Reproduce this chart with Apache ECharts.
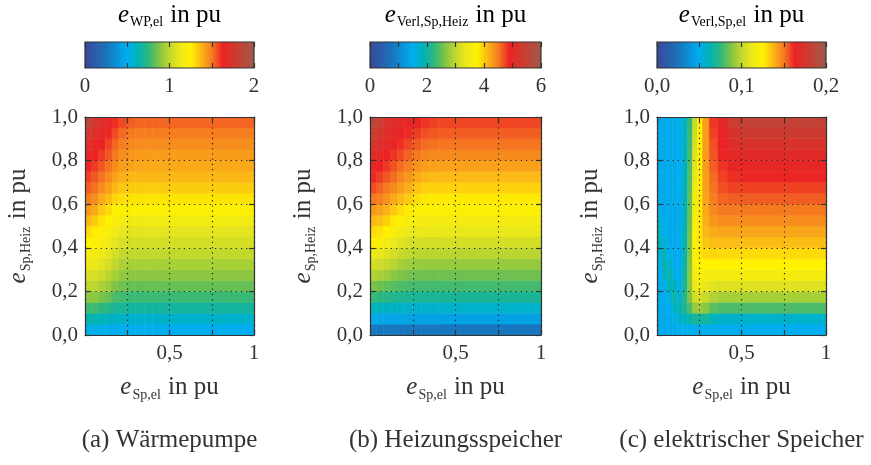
<!DOCTYPE html>
<html>
<head>
<meta charset="utf-8">
<script src="https://cdn.jsdelivr.net/npm/echarts@6/dist/echarts.min.js"></script>
<style>
    html, body { margin: 0; padding: 0; background: #fff; }
    #chart { width: 871px; height: 465px; }
</style>
</head>
<body>
<div id="chart"></div>
<script>
// ---- data ----
// cell edges along e_Sp,el and e_Sp,Heiz
const X_EDGES_AB = [0, 0.04, 0.08, 0.12, 0.16, 0.2, 0.25, 0.3, 0.35, 0.4, 1];
const X_EDGES_C = [0, 0.03, 0.06, 0.09, 0.12, 0.15, 0.18, 0.21, 0.24, 0.27, 0.31, 0.36, 0.42, 0.5, 1];
const Y_EDGES = [0, 0.05, 0.1, 0.15, 0.2, 0.25, 0.3, 0.35, 0.4, 0.45, 0.5,
                 0.55, 0.6, 0.65, 0.7, 0.75, 0.8, 0.85, 0.9, 0.95, 1];

// (a) e_WP,el, one column per x cell, rows from bottom to top
const E_WP_EL = [
    [0.52, 0.64, 0.78, 0.90, 0.99, 1.07, 1.13, 1.19, 1.24, 1.30, 1.37, 1.44, 1.49, 1.54, 1.58, 1.62, 1.65, 1.70, 1.77, 1.85],
    [0.52, 0.64, 0.78, 0.90, 0.99, 1.06, 1.12, 1.17, 1.22, 1.26, 1.33, 1.40, 1.46, 1.51, 1.55, 1.59, 1.63, 1.66, 1.70, 1.76],
    [0.51, 0.62, 0.75, 0.87, 0.96, 1.03, 1.09, 1.14, 1.19, 1.23, 1.28, 1.34, 1.40, 1.46, 1.51, 1.55, 1.59, 1.63, 1.66, 1.69],
    [0.51, 0.61, 0.73, 0.84, 0.93, 0.99, 1.05, 1.10, 1.15, 1.20, 1.25, 1.30, 1.36, 1.42, 1.47, 1.51, 1.55, 1.58, 1.62, 1.65],
    [0.50, 0.60, 0.70, 0.80, 0.88, 0.95, 1.00, 1.05, 1.10, 1.15, 1.20, 1.25, 1.31, 1.37, 1.42, 1.46, 1.50, 1.53, 1.57, 1.61],
    [0.50, 0.59, 0.69, 0.78, 0.85, 0.91, 0.96, 1.01, 1.06, 1.11, 1.17, 1.23, 1.29, 1.34, 1.39, 1.43, 1.46, 1.49, 1.52, 1.57],
    [0.50, 0.58, 0.68, 0.77, 0.84, 0.90, 0.95, 1.00, 1.05, 1.10, 1.16, 1.23, 1.28, 1.33, 1.37, 1.41, 1.44, 1.47, 1.50, 1.54],
    [0.50, 0.58, 0.68, 0.77, 0.84, 0.90, 0.95, 1.00, 1.05, 1.10, 1.16, 1.23, 1.28, 1.33, 1.37, 1.40, 1.43, 1.46, 1.49, 1.53],
    [0.50, 0.58, 0.68, 0.77, 0.84, 0.90, 0.95, 1.00, 1.05, 1.10, 1.16, 1.23, 1.28, 1.33, 1.37, 1.40, 1.43, 1.46, 1.49, 1.53],
    [0.50, 0.58, 0.68, 0.77, 0.84, 0.90, 0.95, 1.00, 1.05, 1.10, 1.16, 1.23, 1.28, 1.33, 1.37, 1.40, 1.43, 1.46, 1.49, 1.53]
];

// (b) e_Verl,Sp,Heiz
const E_VERL_SP_HEIZ = [
    [0.85, 1.45, 1.90, 2.30, 2.60, 2.90, 3.15, 3.40, 3.70, 3.90, 4.10, 4.30, 4.50, 4.70, 4.85, 4.95, 5.10, 5.25, 5.40, 5.55],
    [0.83, 1.42, 1.85, 2.25, 2.55, 2.85, 3.10, 3.35, 3.60, 3.85, 4.05, 4.25, 4.45, 4.60, 4.75, 4.88, 5.00, 5.12, 5.25, 5.38],
    [0.82, 1.40, 1.82, 2.20, 2.50, 2.78, 3.02, 3.25, 3.50, 3.75, 3.95, 4.15, 4.35, 4.50, 4.65, 4.78, 4.90, 5.00, 5.10, 5.20],
    [0.81, 1.38, 1.80, 2.16, 2.45, 2.70, 2.95, 3.15, 3.38, 3.60, 3.80, 4.02, 4.22, 4.40, 4.55, 4.67, 4.80, 4.90, 5.00, 5.08],
    [0.80, 1.37, 1.78, 2.13, 2.40, 2.62, 2.85, 3.05, 3.25, 3.48, 3.68, 3.90, 4.10, 4.28, 4.43, 4.56, 4.70, 4.82, 4.92, 5.00],
    [0.80, 1.36, 1.76, 2.11, 2.37, 2.58, 2.79, 2.99, 3.19, 3.40, 3.60, 3.80, 4.00, 4.17, 4.32, 4.46, 4.60, 4.72, 4.84, 4.94],
    [0.80, 1.35, 1.75, 2.10, 2.35, 2.55, 2.76, 2.96, 3.16, 3.36, 3.55, 3.73, 3.88, 4.04, 4.20, 4.35, 4.50, 4.63, 4.76, 4.88],
    [0.80, 1.35, 1.75, 2.10, 2.35, 2.55, 2.75, 2.95, 3.15, 3.35, 3.50, 3.68, 3.82, 3.97, 4.13, 4.28, 4.43, 4.56, 4.68, 4.80],
    [0.80, 1.35, 1.75, 2.10, 2.35, 2.55, 2.75, 2.95, 3.15, 3.35, 3.50, 3.68, 3.80, 3.95, 4.10, 4.25, 4.40, 4.53, 4.64, 4.75],
    [0.80, 1.35, 1.75, 2.10, 2.35, 2.55, 2.75, 2.95, 3.15, 3.35, 3.50, 3.68, 3.80, 3.95, 4.10, 4.25, 4.40, 4.52, 4.62, 4.72]
];

// (c) e_Verl,Sp,el
const E_VERL_SP_EL = [
    [0.048, 0.048, 0.048, 0.048, 0.049, 0.050, 0.052, 0.056, 0.060, 0.061, 0.056, 0.051, 0.049, 0.048, 0.048, 0.048, 0.048, 0.048, 0.048, 0.048],
    [0.048, 0.048, 0.048, 0.049, 0.052, 0.058, 0.063, 0.062, 0.056, 0.051, 0.049, 0.048, 0.048, 0.048, 0.048, 0.048, 0.048, 0.048, 0.048, 0.048],
    [0.048, 0.048, 0.050, 0.055, 0.062, 0.065, 0.058, 0.051, 0.049, 0.048, 0.048, 0.048, 0.048, 0.048, 0.048, 0.048, 0.048, 0.048, 0.048, 0.048],
    [0.048, 0.052, 0.060, 0.066, 0.062, 0.054, 0.050, 0.049, 0.048, 0.048, 0.048, 0.048, 0.048, 0.048, 0.048, 0.048, 0.048, 0.048, 0.048, 0.048],
    [0.050, 0.060, 0.064, 0.058, 0.052, 0.050, 0.049, 0.049, 0.049, 0.049, 0.049, 0.049, 0.049, 0.050, 0.050, 0.050, 0.050, 0.051, 0.051, 0.052],
    [0.050, 0.060, 0.070, 0.072, 0.070, 0.068, 0.066, 0.065, 0.064, 0.063, 0.062, 0.061, 0.061, 0.061, 0.061, 0.060, 0.060, 0.060, 0.060, 0.060],
    [0.050, 0.064, 0.080, 0.088, 0.090, 0.090, 0.089, 0.088, 0.087, 0.086, 0.085, 0.084, 0.083, 0.082, 0.081, 0.080, 0.079, 0.078, 0.077, 0.076],
    [0.050, 0.068, 0.092, 0.105, 0.112, 0.117, 0.120, 0.122, 0.123, 0.122, 0.120, 0.118, 0.116, 0.114, 0.112, 0.110, 0.108, 0.106, 0.104, 0.102],
    [0.050, 0.068, 0.093, 0.106, 0.115, 0.121, 0.125, 0.127, 0.128, 0.128, 0.128, 0.127, 0.127, 0.126, 0.126, 0.126, 0.125, 0.125, 0.125, 0.125],
    [0.050, 0.068, 0.090, 0.102, 0.112, 0.119, 0.125, 0.130, 0.134, 0.137, 0.139, 0.140, 0.141, 0.142, 0.142, 0.143, 0.143, 0.143, 0.143, 0.143],
    [0.050, 0.062, 0.082, 0.097, 0.109, 0.118, 0.125, 0.131, 0.136, 0.140, 0.144, 0.147, 0.149, 0.151, 0.152, 0.154, 0.155, 0.156, 0.158, 0.160],
    [0.050, 0.059, 0.080, 0.095, 0.108, 0.118, 0.125, 0.130, 0.136, 0.141, 0.146, 0.150, 0.153, 0.156, 0.158, 0.160, 0.162, 0.163, 0.164, 0.166],
    [0.050, 0.058, 0.080, 0.095, 0.108, 0.118, 0.125, 0.130, 0.136, 0.141, 0.146, 0.150, 0.154, 0.158, 0.161, 0.164, 0.167, 0.170, 0.174, 0.178],
    [0.050, 0.058, 0.080, 0.095, 0.108, 0.118, 0.125, 0.130, 0.136, 0.141, 0.146, 0.150, 0.154, 0.158, 0.162, 0.165, 0.168, 0.173, 0.178, 0.182]
];

// colour bar ranges and labelled ticks
const CB_MAX = [2, 6, 0.2];
const CB_STEP = [0.5, 1, 0.05];
const CB_LABELS = [[0, 1, 2], [0, 2, 4, 6], [0, 0.1, 0.2]];
const X_LABELS = [0.5, 1];

const CB_TITLES = ['WP,el', 'Verl,Sp,Heiz', 'Verl,Sp,el'];
const CAPTIONS = ['(a) Wärmepumpe', '(b) Heizungsspeicher', '(c) elektrischer Speicher'];

// ---- styling ----
const FONT = '"Liberation Serif", "DejaVu Serif", serif';
const INK = '#333';
const COLORMAP = ['#3a479a', '#2c5ca9', '#1a72ba', '#0b90d6', '#00aeef', '#00b2b8', '#2db77e',
                  '#7ec346', '#c2d82d', '#ede81a', '#fff200', '#fbb616', '#f57a20', '#ec2225',
                  '#d4362c', '#b84a3c', '#9d5a4b'];
const PANELS = [
    {left: 85, width: 169, xEdges: X_EDGES_AB, values: E_WP_EL},
    {left: 370, width: 171, xEdges: X_EDGES_AB, values: E_VERL_SP_HEIZ},
    {left: 657, width: 169, xEdges: X_EDGES_C, values: E_VERL_SP_EL}
];

function rich(size, sub) {
    return {
        e: {fontFamily: FONT, fontStyle: 'italic', fontSize: size, lineHeight: size + 2, verticalAlign: 'top', color: INK},
        t: {fontFamily: FONT, fontSize: size, lineHeight: size + 2, verticalAlign: 'top', color: INK},
        s: {fontFamily: FONT, fontSize: sub, lineHeight: sub + 1, verticalAlign: 'bottom', padding: [size - sub + 1, 1, 0, 1], color: INK}
    };
}
function symText(sub) {
    return '{e|e}{s|' + sub + '}{t| in pu}';
}
function comma(v, d) {
    return v.toFixed(d).replace('.', ',');
}

function cellData(xEdges, values) {
    const out = [];
    for (let i = 0; i < values.length; i++) {
        for (let j = 0; j < values[i].length; j++) {
            out.push([xEdges[i], xEdges[i + 1], Y_EDGES[j], Y_EDGES[j + 1], values[i][j]]);
        }
    }
    return out;
}

function renderCell(params, api) {
    const a = api.coord([api.value(0), api.value(3)]);
    const b = api.coord([api.value(1), api.value(2)]);
    const c = api.visual('color');
    return {
        type: 'rect',
        shape: {x: a[0], y: a[1], width: b[0] - a[0], height: b[1] - a[1]},
        style: {fill: c, stroke: c, lineWidth: 0.6}
    };
}

function renderBar(params, api) {
    const a = api.coord([api.value(0), 1]);
    const b = api.coord([api.value(1), 0]);
    const stops = COLORMAP.map((c, k) => ({offset: k / (COLORMAP.length - 1), color: c}));
    return {
        type: 'rect',
        shape: {x: a[0], y: a[1], width: b[0] - a[0], height: b[1] - a[1]},
        style: {fill: new echarts.graphic.LinearGradient(0, 0, 1, 0, stops), stroke: INK, lineWidth: 1.2}
    };
}

const grid = [], xAxis = [], yAxis = [], series = [], visualMap = [], graphic = [];
const dotted = {show: true, lineStyle: {color: '#222', type: [1.2, 4], width: 1.2}};
const tickIn = {show: true, inside: true, length: 5, lineStyle: {color: INK, width: 1.2}};
const line = {show: true, onZero: false, lineStyle: {color: INK, width: 1.2}};
const lab = {fontFamily: FONT, fontSize: 21, color: INK};

PANELS.forEach((p, i) => {
    // heat map grid
    const g = grid.length;
    grid.push({left: p.left, width: p.width, top: 117, height: 218});
    const xi = xAxis.length, yi = yAxis.length;
    xAxis.push({
        gridIndex: g, type: 'value', min: 0, max: 1, interval: 0.25, z: 5,
        axisLine: line, axisTick: tickIn, splitLine: dotted,
        axisLabel: Object.assign({margin: 8, showMinLabel: false,
            formatter: v => X_LABELS.some(l => Math.abs(l - v) < 1e-6) ? (v === 1 ? '1' : comma(v, 1)) : ''}, lab),
        name: symText('Sp,el'), nameLocation: 'middle', nameGap: 40,
        nameTextStyle: {rich: rich(25, 14)}
    });
    xAxis.push({
        gridIndex: g, type: 'value', min: 0, max: 1, interval: 0.25, position: 'top', z: 5,
        axisLine: line, axisTick: tickIn, splitLine: {show: false}, axisLabel: {show: false}
    });
    yAxis.push({
        gridIndex: g, type: 'value', min: 0, max: 1, interval: 0.2, z: 5,
        axisLine: line, axisTick: tickIn, splitLine: dotted,
        axisLabel: Object.assign({margin: 7, formatter: v => comma(v, 1)}, lab),
        name: symText('Sp,Heiz'), nameLocation: 'middle', nameGap: 52, nameRotate: 90,
        nameTextStyle: {rich: rich(25, 14)}
    });
    yAxis.push({
        gridIndex: g, type: 'value', min: 0, max: 1, interval: 0.2, position: 'right', z: 5,
        axisLine: line, axisTick: tickIn, splitLine: {show: false}, axisLabel: {show: false}
    });
    series.push({
        type: 'custom', xAxisIndex: xi, yAxisIndex: yi, z: 1, clip: true,
        renderItem: renderCell, encode: {x: [0, 1], y: [2, 3]},
        data: cellData(p.xEdges, p.values)
    });
    visualMap.push({
        type: 'continuous', show: false, seriesIndex: series.length - 1, dimension: 4,
        min: 0, max: CB_MAX[i], inRange: {color: COLORMAP}
    });

    // colour bar grid
    const gb = grid.length;
    grid.push({left: p.left, width: p.width, top: 42, height: 26});
    const xb = xAxis.length, yb = yAxis.length;
    xAxis.push({
        gridIndex: gb, type: 'value', min: 0, max: CB_MAX[i], interval: CB_STEP[i], z: 5,
        axisLine: {show: false}, axisTick: tickIn, splitLine: {show: false},
        axisLabel: Object.assign({margin: 8, formatter: v => {
            if (!CB_LABELS[i].some(l => Math.abs(l - v) < 1e-6)) return '';
            return i === 2 ? comma(v, 1) : String(Math.round(v));
        }}, lab)
    });
    xAxis.push({
        gridIndex: gb, type: 'value', min: 0, max: CB_MAX[i], interval: CB_STEP[i], position: 'top', z: 5,
        axisLine: {show: false}, axisTick: tickIn, splitLine: {show: false}, axisLabel: {show: false}
    });
    yAxis.push({gridIndex: gb, type: 'value', min: 0, max: 1, show: false});
    series.push({
        type: 'custom', xAxisIndex: xb, yAxisIndex: yb, z: 1,
        renderItem: renderBar, encode: {x: [0, 1]},
        data: [[0, CB_MAX[i]]]
    });

    // colour bar title and panel caption
    graphic.push({
        type: 'text', x: p.left + p.width / 2, y: 16,
        style: {text: symText(CB_TITLES[i]), rich: rich(25, 14), align: 'center', verticalAlign: 'middle'}
    });
    graphic.push({
        type: 'text', x: p.left + p.width / 2, y: 440,
        style: {text: CAPTIONS[i], fontFamily: FONT, fontSize: 25, fill: INK, align: 'center', verticalAlign: 'middle'}
    });
});

const chart = echarts.init(document.getElementById('chart'));
chart.setOption({
    animation: false,
    backgroundColor: '#fff',
    grid: grid,
    xAxis: xAxis,
    yAxis: yAxis,
    visualMap: visualMap,
    series: series,
    graphic: graphic
});
</script>
</body>
</html>
